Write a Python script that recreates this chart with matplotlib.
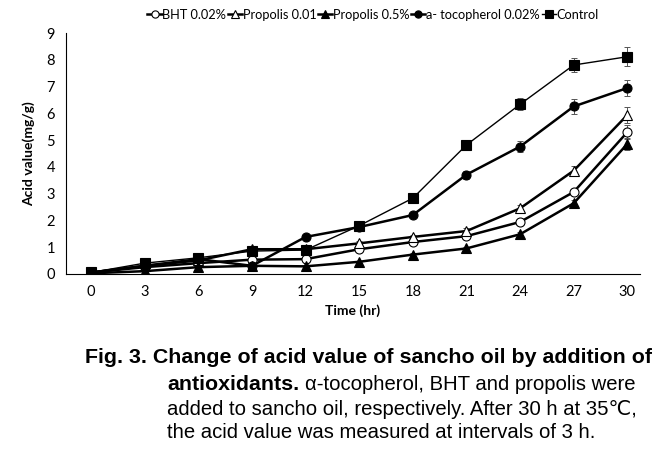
import matplotlib
matplotlib.use("Agg")
import matplotlib.pyplot as plt

# time points (hr)
hours = [0, 3, 6, 9, 12, 15, 18, 21, 24, 27, 30]

# acid value (mg/g)
bht = [0.05, 0.25, 0.40, 0.53, 0.55, 0.92, 1.19, 1.41, 1.94, 3.06, 5.30]
propolis_001 = [0.05, 0.30, 0.50, 0.92, 0.92, 1.14, 1.38, 1.60, 2.45, 3.86, 5.94]
propolis_05 = [0.02, 0.10, 0.25, 0.30, 0.28, 0.45, 0.72, 0.95, 1.48, 2.64, 4.86]
tocopherol = [0.05, 0.30, 0.55, 0.30, 1.38, 1.75, 2.20, 3.71, 4.76, 6.26, 6.95]
control = [0.05, 0.40, 0.60, 0.85, 0.89, 1.80, 2.83, 4.82, 6.34, 7.81, 8.12]

# error bars
bht_err = [0.02, 0.03, 0.03, 0.04, 0.04, 0.05, 0.06, 0.08, 0.10, 0.12, 0.25]
propolis_001_err = [0.02, 0.03, 0.03, 0.05, 0.05, 0.08, 0.08, 0.10, 0.12, 0.18, 0.30]
propolis_05_err = [0.02, 0.02, 0.03, 0.03, 0.03, 0.04, 0.05, 0.06, 0.08, 0.12, 0.22]
tocopherol_err = [0.02, 0.03, 0.03, 0.04, 0.05, 0.06, 0.08, 0.15, 0.20, 0.28, 0.30]
control_err = [0.02, 0.03, 0.04, 0.05, 0.05, 0.06, 0.08, 0.15, 0.22, 0.28, 0.35]

labels = ["BHT 0.02%", "Propolis 0.01", "Propolis 0.5%", "a- tocopherol 0.02%", "Control"]

fig = plt.figure(figsize=(6.61, 4.61), dpi=100)
ax = fig.add_axes([0.1, 0.406, 0.868, 0.522])

series = [
    (bht, bht_err, "o", "white", 1.8),
    (propolis_001, propolis_001_err, "^", "white", 1.8),
    (propolis_05, propolis_05_err, "^", "black", 1.8),
    (tocopherol, tocopherol_err, "o", "black", 1.8),
    (control, control_err, "s", "black", 1.0),
]
for (vals, err, mk, fc, lw), lab in zip(series, labels):
    ax.errorbar(hours, vals, yerr=err, fmt="none", ecolor="#555555",
                elinewidth=0.7, capsize=2.5, capthick=0.7, zorder=1)
    ax.plot(hours, vals, marker=mk, markerfacecolor=fc, markeredgecolor="black",
            markersize=6.5, markeredgewidth=0.8, color="black", linewidth=lw,
            label=lab, zorder=3)

ax.set_xlim(-1.4, 30.7)
ax.set_ylim(0, 9)
ax.set_xticks(hours)
ax.set_yticks(range(0, 10))
ax.spines["top"].set_visible(False)
ax.spines["right"].set_visible(False)
ax.tick_params(length=0, labelsize=10.5, pad=8)
for t in ax.get_xticklabels() + ax.get_yticklabels():
    t.set_family(["Lato", "DejaVu Sans"])
ax.set_xlabel("Time (hr)", fontsize=10, fontweight="bold",
              family=["Lato", "DejaVu Sans"], labelpad=4)
ax.set_ylabel("Acid value(mg/g)", fontsize=10, fontweight="bold",
              family=["Lato", "DejaVu Sans"], labelpad=8)

leg = ax.legend(loc="lower center", bbox_to_anchor=(0.535, 1.025), ncol=5, frameon=False,
                handlelength=1.1, handletextpad=0.05, columnspacing=0.15,
                borderaxespad=0.1, markerscale=0.8,
                prop={"family": ["Lato", "DejaVu Sans"], "size": 9.2})

# caption
cap = ["Liberation Sans", "DejaVu Sans"]
fig.text(0.128, 0.225, "Fig. 3. Change of acid value of sancho oil by addition of",
         fontsize=15.4, fontweight="bold", family=cap, va="center")
t1 = fig.text(0.253, 0.165, "antioxidants.", fontsize=15.4, fontweight="bold",
              family=cap, va="center")
fig.canvas.draw()
bb = t1.get_window_extent()
fig.text(bb.x1 / fig.bbox.width + 0.008, 0.165, "\u03b1-tocopherol, BHT and propolis were",
         fontsize=14.6, family=cap, va="center")
fig.text(0.253, 0.112, "added to sancho oil, respectively. After 30 h at 35\u2103,",
         fontsize=14.6, family=cap, va="center")
fig.text(0.253, 0.062, "the acid value was measured at intervals of 3 h.",
         fontsize=14.6, family=cap, va="center")

fig.savefig("out.png", dpi=100)
